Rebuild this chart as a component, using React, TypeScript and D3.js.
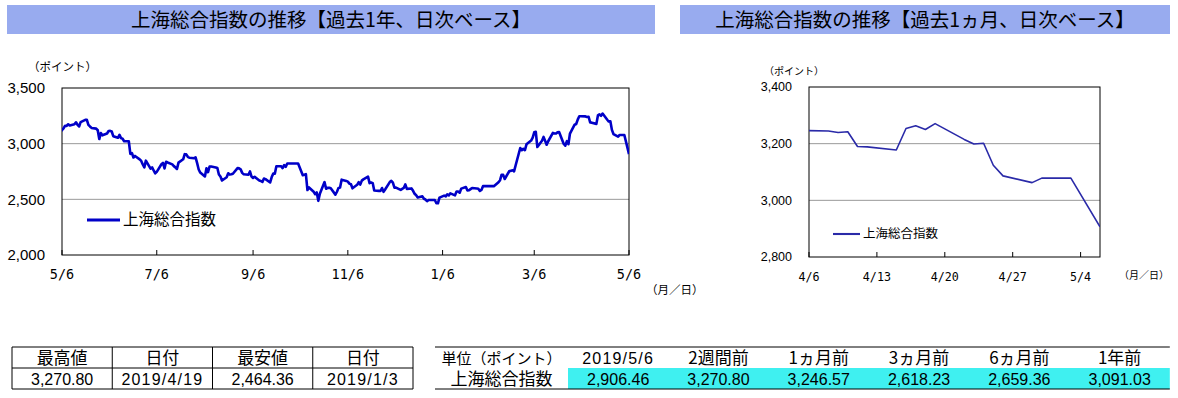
import * as d3 from "d3";

// 上海総合指数 daily closes (holiday weekdays carry the previous close)
const yearSeries: [string, number][] = [
  ["2018-05-04", 3091.03], ["2018-05-07", 3136.64], ["2018-05-08", 3161.5], ["2018-05-09", 3159.15],
  ["2018-05-10", 3174.41], ["2018-05-11", 3163.26], ["2018-05-14", 3174.03], ["2018-05-15", 3192.12],
  ["2018-05-16", 3169.57], ["2018-05-17", 3154.28], ["2018-05-18", 3193.3], ["2018-05-21", 3213.84],
  ["2018-05-22", 3214.35], ["2018-05-23", 3168.96], ["2018-05-24", 3154.65], ["2018-05-25", 3141.3],
  ["2018-05-28", 3135.08], ["2018-05-29", 3120.46], ["2018-05-30", 3041.44], ["2018-05-31", 3095.47],
  ["2018-06-01", 3075.14], ["2018-06-04", 3091.19], ["2018-06-05", 3114.21], ["2018-06-06", 3115.18],
  ["2018-06-07", 3109.5], ["2018-06-08", 3067.15], ["2018-06-11", 3052.78], ["2018-06-12", 3079.8],
  ["2018-06-13", 3049.8], ["2018-06-14", 3044.16], ["2018-06-15", 3021.9], ["2018-06-18", 3021.9],
  ["2018-06-19", 2907.82], ["2018-06-20", 2915.73], ["2018-06-21", 2875.81], ["2018-06-22", 2889.76],
  ["2018-06-25", 2859.34], ["2018-06-26", 2844.51], ["2018-06-27", 2813.18], ["2018-06-28", 2786.9],
  ["2018-06-29", 2847.42], ["2018-07-02", 2775.56], ["2018-07-03", 2786.89], ["2018-07-04", 2759.13],
  ["2018-07-05", 2733.88], ["2018-07-06", 2747.23], ["2018-07-09", 2815.11], ["2018-07-10", 2827.63],
  ["2018-07-11", 2777.77], ["2018-07-12", 2837.66], ["2018-07-13", 2831.18], ["2018-07-16", 2814.04],
  ["2018-07-17", 2798.13], ["2018-07-18", 2787.26], ["2018-07-19", 2772.55], ["2018-07-20", 2829.27],
  ["2018-07-23", 2859.54], ["2018-07-24", 2905.56], ["2018-07-25", 2903.65], ["2018-07-26", 2882.23],
  ["2018-07-27", 2873.59], ["2018-07-30", 2869.05], ["2018-07-31", 2876.4], ["2018-08-01", 2824.53],
  ["2018-08-02", 2768.02], ["2018-08-03", 2740.44], ["2018-08-06", 2705.16], ["2018-08-07", 2779.37],
  ["2018-08-08", 2744.07], ["2018-08-09", 2794.38], ["2018-08-10", 2795.31], ["2018-08-13", 2785.87],
  ["2018-08-14", 2780.96], ["2018-08-15", 2723.26], ["2018-08-16", 2705.19], ["2018-08-17", 2668.97],
  ["2018-08-20", 2698.47], ["2018-08-21", 2733.85], ["2018-08-22", 2722.27], ["2018-08-23", 2724.62],
  ["2018-08-24", 2729.43], ["2018-08-27", 2780.9], ["2018-08-28", 2777.98], ["2018-08-29", 2769.3],
  ["2018-08-30", 2737.74], ["2018-08-31", 2725.25], ["2018-09-03", 2720.73], ["2018-09-04", 2750.58],
  ["2018-09-05", 2704.34], ["2018-09-06", 2691.59], ["2018-09-07", 2702.3], ["2018-09-10", 2669.48],
  ["2018-09-11", 2664.8], ["2018-09-12", 2656.11], ["2018-09-13", 2686.58], ["2018-09-14", 2681.64],
  ["2018-09-17", 2651.79], ["2018-09-18", 2699.95], ["2018-09-19", 2730.85], ["2018-09-20", 2729.24],
  ["2018-09-21", 2797.49], ["2018-09-24", 2797.49], ["2018-09-25", 2781.14], ["2018-09-26", 2806.81],
  ["2018-09-27", 2791.77], ["2018-09-28", 2821.35], ["2018-10-01", 2821.35], ["2018-10-02", 2821.35],
  ["2018-10-03", 2821.35], ["2018-10-04", 2821.35], ["2018-10-05", 2821.35], ["2018-10-08", 2716.51],
  ["2018-10-09", 2721.01], ["2018-10-10", 2725.84], ["2018-10-11", 2583.46], ["2018-10-12", 2606.91],
  ["2018-10-15", 2568.1], ["2018-10-16", 2546.33], ["2018-10-17", 2561.61], ["2018-10-18", 2486.42],
  ["2018-10-19", 2550.47], ["2018-10-22", 2654.88], ["2018-10-23", 2594.83], ["2018-10-24", 2603.3],
  ["2018-10-25", 2603.8], ["2018-10-26", 2598.85], ["2018-10-29", 2542.1], ["2018-10-30", 2568.05],
  ["2018-10-31", 2602.78], ["2018-11-01", 2606.24], ["2018-11-02", 2676.48], ["2018-11-05", 2665.43],
  ["2018-11-06", 2659.36], ["2018-11-07", 2641.34], ["2018-11-08", 2635.63], ["2018-11-09", 2598.87],
  ["2018-11-12", 2630.52], ["2018-11-13", 2654.88], ["2018-11-14", 2632.24], ["2018-11-15", 2668.17],
  ["2018-11-16", 2679.11], ["2018-11-19", 2703.51], ["2018-11-20", 2645.43], ["2018-11-21", 2651.51],
  ["2018-11-22", 2645.85], ["2018-11-23", 2579.48], ["2018-11-26", 2575.81], ["2018-11-27", 2574.68],
  ["2018-11-28", 2601.74], ["2018-11-29", 2567.44], ["2018-11-30", 2588.19], ["2018-12-03", 2654.8],
  ["2018-12-04", 2665.96], ["2018-12-05", 2649.81], ["2018-12-06", 2605.18], ["2018-12-07", 2605.89],
  ["2018-12-10", 2584.58], ["2018-12-11", 2594.09], ["2018-12-12", 2602.15], ["2018-12-13", 2634.05],
  ["2018-12-14", 2593.74], ["2018-12-17", 2597.97], ["2018-12-18", 2576.65], ["2018-12-19", 2549.56],
  ["2018-12-20", 2536.27], ["2018-12-21", 2516.25], ["2018-12-24", 2527.01], ["2018-12-25", 2504.82],
  ["2018-12-26", 2498.29], ["2018-12-27", 2483.09], ["2018-12-28", 2493.9], ["2018-12-31", 2493.9],
  ["2019-01-01", 2493.9], ["2019-01-02", 2465.29], ["2019-01-03", 2464.36], ["2019-01-04", 2514.87],
  ["2019-01-07", 2533.09], ["2019-01-08", 2526.46], ["2019-01-09", 2544.34], ["2019-01-10", 2535.1],
  ["2019-01-11", 2553.83], ["2019-01-14", 2535.77], ["2019-01-15", 2570.34], ["2019-01-16", 2570.42],
  ["2019-01-17", 2559.64], ["2019-01-18", 2596.01], ["2019-01-21", 2610.51], ["2019-01-22", 2579.7],
  ["2019-01-23", 2581.0], ["2019-01-24", 2591.69], ["2019-01-25", 2601.72], ["2019-01-28", 2596.98],
  ["2019-01-29", 2594.25], ["2019-01-30", 2575.58], ["2019-01-31", 2584.57], ["2019-02-01", 2618.23],
  ["2019-02-04", 2618.23], ["2019-02-05", 2618.23], ["2019-02-06", 2618.23], ["2019-02-07", 2618.23],
  ["2019-02-08", 2618.23], ["2019-02-11", 2653.9], ["2019-02-12", 2671.89], ["2019-02-13", 2721.07],
  ["2019-02-14", 2719.7], ["2019-02-15", 2682.39], ["2019-02-18", 2754.36], ["2019-02-19", 2755.65],
  ["2019-02-20", 2761.22], ["2019-02-21", 2751.8], ["2019-02-22", 2804.23], ["2019-02-25", 2961.28],
  ["2019-02-26", 2941.52], ["2019-02-27", 2953.82], ["2019-02-28", 2940.95], ["2019-03-01", 2994.01],
  ["2019-03-04", 3027.58], ["2019-03-05", 3054.25], ["2019-03-06", 3102.1], ["2019-03-07", 3106.42],
  ["2019-03-08", 2969.86], ["2019-03-11", 3026.99], ["2019-03-12", 3060.31], ["2019-03-13", 3026.95],
  ["2019-03-14", 2990.69], ["2019-03-15", 3021.75], ["2019-03-18", 3096.42], ["2019-03-19", 3090.98],
  ["2019-03-20", 3090.64], ["2019-03-21", 3101.46], ["2019-03-22", 3104.15], ["2019-03-25", 2997.1],
  ["2019-03-26", 2981.85], ["2019-03-27", 3022.72], ["2019-03-28", 2994.94], ["2019-03-29", 3090.76],
  ["2019-04-01", 3170.36], ["2019-04-02", 3176.82], ["2019-04-03", 3216.3], ["2019-04-04", 3246.57],
  ["2019-04-05", 3246.57], ["2019-04-08", 3244.81], ["2019-04-09", 3239.66], ["2019-04-10", 3241.93],
  ["2019-04-11", 3189.96], ["2019-04-12", 3188.63], ["2019-04-15", 3177.79], ["2019-04-16", 3253.6],
  ["2019-04-17", 3263.12], ["2019-04-18", 3250.2], ["2019-04-19", 3270.8], ["2019-04-22", 3215.04],
  ["2019-04-23", 3198.59], ["2019-04-24", 3201.61], ["2019-04-25", 3123.83], ["2019-04-26", 3086.4],
  ["2019-04-29", 3062.5], ["2019-04-30", 3078.34], ["2019-05-01", 3078.34], ["2019-05-02", 3078.34],
  ["2019-05-03", 3078.34], ["2019-05-06", 2906.46],
];

const yearTicks = ["2018-05-06", "2018-07-06", "2018-09-06", "2018-11-06", "2019-01-06", "2019-03-06", "2019-05-06"];
const yearYTicks = [2000, 2500, 3000, 3500];
const monthTicks = ["2019-04-06", "2019-04-13", "2019-04-20", "2019-04-27", "2019-05-04"];
const monthYTicks = [2800, 3000, 3200, 3400];

const statHeaders = ["最高値", "日付", "最安値", "日付"];
const statValues = ["3,270.80", "2019/4/19", "2,464.36", "2019/1/3"];
const compareHeaders = ["単位（ポイント）", "2019/5/6", "2週間前", "1ヵ月前", "3ヵ月前", "6ヵ月前", "1年前"];
const compareValues = ["上海総合指数", "2,906.46", "3,270.80", "3,246.57", "2,618.23", "2,659.36", "3,091.03"];

const JP = "'Noto Sans CJK JP', sans-serif";
const NUM = "'Liberation Sans', Arial, sans-serif";
const MONO = "'DejaVu Sans Mono', monospace";
const parse = d3.timeParse("%Y-%m-%d");
const fmtMD = d3.timeFormat("%-m/%-d");

type Pt = { date: Date; value: number };
const yearData: Pt[] = yearSeries.map(([d, v]) => ({ date: parse(d)!, value: v }));
const monthData = yearData.filter((p) => p.date >= parse("2019-04-04")!);

interface ChartProps {
  id: string;
  data: Pt[];
  x0: number; x1: number; y0: number; y1: number;
  dateFrom: string; dateTo: string;
  yDomain: [number, number];
  yTicks: number[];
  xTicks: string[];
  lineColor: string; lineWidth: number;
  yFont: number; xFont: number; unitFont: number;
  unitPos: [number, number];
  monthPos: [number, number];
  legend: { x: number; y: number; len: number; font: number };
}

function LineChart(p: ChartProps) {
  const x = d3.scaleTime().domain([parse(p.dateFrom)!, parse(p.dateTo)!]).range([p.x0, p.x1]);
  const y = d3.scaleLinear().domain(p.yDomain).range([p.y1, p.y0]);
  const line = d3.line<Pt>().x((d) => x(d.date)).y((d) => y(d.value));
  return (
    <g>
      <defs>
        <clipPath id={p.id}>
          <rect x={p.x0} y={p.y0 - 5} width={p.x1 - p.x0} height={p.y1 - p.y0 + 10} />
        </clipPath>
      </defs>
      {p.yTicks.slice(1, -1).map((t) => (
        <line key={t} x1={p.x0} x2={p.x1} y1={y(t)} y2={y(t)} stroke="#999" strokeWidth={1} />
      ))}
      <rect x={p.x0} y={p.y0} width={p.x1 - p.x0} height={p.y1 - p.y0} fill="none" stroke="#000" strokeWidth={1} />
      {p.xTicks.map((t) => (
        <g key={t}>
          <line x1={x(parse(t)!)} x2={x(parse(t)!)} y1={p.y1} y2={p.y1 - 5} stroke="#000" />
          <text x={x(parse(t)!)} y={p.y1 + 24} textAnchor="middle" fontFamily={MONO} fontSize={p.xFont}>
            {fmtMD(parse(t)!)}
          </text>
        </g>
      ))}
      {p.yTicks.map((t) => (
        <text key={t} x={p.x0 - 17} y={y(t)} dy="0.35em" textAnchor="end" fontFamily={NUM} fontSize={p.yFont}>
          {d3.format(",")(t)}
        </text>
      ))}
      <text x={p.unitPos[0]} y={p.unitPos[1]} dy="0.35em" fontFamily={JP} fontSize={p.unitFont}>（ポイント）</text>
      <text x={p.monthPos[0]} y={p.monthPos[1]} dy="0.35em" fontFamily={JP} fontSize={p.unitFont}>（月／日）</text>
      <path d={line(p.data) ?? ""} fill="none" stroke={p.lineColor} strokeWidth={p.lineWidth}
        strokeLinejoin="round" clipPath={`url(#${p.id})`} />
      <line x1={p.legend.x} x2={p.legend.x + p.legend.len} y1={p.legend.y} y2={p.legend.y}
        stroke={p.lineColor} strokeWidth={p.lineWidth + 0.5} />
      <text x={p.legend.x + p.legend.len + 3} y={p.legend.y} dy="0.35em" fontFamily={JP} fontSize={p.legend.font}>
        上海総合指数
      </text>
    </g>
  );
}

function TitleBar({ x, w, text }: { x: number; w: number; text: string }) {
  return (
    <g>
      <rect x={x} y={5} width={w} height={29} fill="#98ABEF" />
      <text x={x + w / 2} y={20} dy="0.36em" textAnchor="middle" fontFamily={JP} fontSize={19.5} fontWeight={400}>
        {text}
      </text>
    </g>
  );
}

// table cell text styling: numbers, dates, or Japanese
function cellStyle(s: string): { fontFamily: string; fontSize: number; letterSpacing?: number } {
  if (/^[\d,.]+$/.test(s)) return { fontFamily: NUM, fontSize: 16 };
  if (/^[\d/]+$/.test(s)) return { fontFamily: NUM, fontSize: 16, letterSpacing: 1.2 };
  return { fontFamily: JP, fontSize: s.includes("（") ? 15 : 17 };
}

export default function App() {
  const rowTop = 347, rowMid = 368, rowBot = 389;
  const statEdges = d3.range(5).map((i) => 12 + i * 100.25);
  const cmpEdges = [435, ...d3.range(7).map((i) => 568 + i * 100.3)];
  return (
    <div style={{ position: "fixed", left: 0, top: 0 }}>
      <svg width={1178} height={398} style={{ display: "block", background: "#fff" }}>
        <TitleBar x={7} w={648} text="上海総合指数の推移【過去1年、日次ベース】" />
        <TitleBar x={680} w={490} text="上海総合指数の推移【過去1ヵ月、日次ベース】" />

        <LineChart id="clipYear" data={yearData} x0={62} x1={629} y0={88} y1={255}
          dateFrom="2018-05-06" dateTo="2019-05-06" yDomain={[2000, 3500]} yTicks={yearYTicks}
          xTicks={yearTicks} lineColor="#0000C8" lineWidth={2.6} yFont={15} xFont={13.5} unitFont={11.5}
          unitPos={[28, 67]} monthPos={[646, 290]} legend={{ x: 87, y: 220, len: 33, font: 15.5 }} />

        <LineChart id="clipMonth" data={monthData} x0={809} x1={1100} y0={87} y1={257}
          dateFrom="2019-04-06" dateTo="2019-05-06" yDomain={[2800, 3400]} yTicks={monthYTicks}
          xTicks={monthTicks} lineColor="#2A2AA8" lineWidth={1.6} yFont={12.5} xFont={11.7} unitFont={10}
          unitPos={[764, 71]} monthPos={[1119, 275]} legend={{ x: 833, y: 234, len: 27, font: 12.5 }} />

        {/* left stats table */}
        <g>
          {[rowTop, rowMid, rowBot].map((yy) => (
            <line key={yy} x1={statEdges[0]} x2={statEdges[4]} y1={yy} y2={yy} stroke="#000" />
          ))}
          {statEdges.map((xx) => (
            <line key={xx} x1={xx} x2={xx} y1={rowTop} y2={rowBot} stroke="#000" />
          ))}
          {statHeaders.map((h, i) => (
            <text key={"h" + i} x={(statEdges[i] + statEdges[i + 1]) / 2} y={(rowTop + rowMid) / 2 + 1} dy="0.35em"
              textAnchor="middle" {...cellStyle(h)}>{h}</text>
          ))}
          {statValues.map((v, i) => (
            <text key={"v" + i} x={(statEdges[i] + statEdges[i + 1]) / 2} y={(rowMid + rowBot) / 2 + 1} dy="0.35em"
              textAnchor="middle" {...cellStyle(v)}>{v}</text>
          ))}
        </g>

        {/* right comparison table */}
        <g>
          <rect x={cmpEdges[1]} y={rowMid} width={cmpEdges[7] - cmpEdges[1]} height={rowBot - rowMid} fill="#3FF0F0" />
          <line x1={cmpEdges[0]} x2={cmpEdges[7]} y1={rowTop} y2={rowTop} stroke="#000" />
          <line x1={cmpEdges[0]} x2={cmpEdges[7]} y1={rowBot} y2={rowBot} stroke="#000" />
          {compareHeaders.map((h, i) => (
            <text key={"h" + i} x={(cmpEdges[i] + cmpEdges[i + 1]) / 2} y={(rowTop + rowMid) / 2 + 1} dy="0.35em"
              textAnchor="middle" {...cellStyle(h)}>{h}</text>
          ))}
          {compareValues.map((v, i) => (
            <text key={"v" + i} x={(cmpEdges[i] + cmpEdges[i + 1]) / 2} y={(rowMid + rowBot) / 2 + 1} dy="0.35em"
              textAnchor="middle" {...cellStyle(v)}>{v}</text>
          ))}
        </g>
      </svg>
    </div>
  );
}
